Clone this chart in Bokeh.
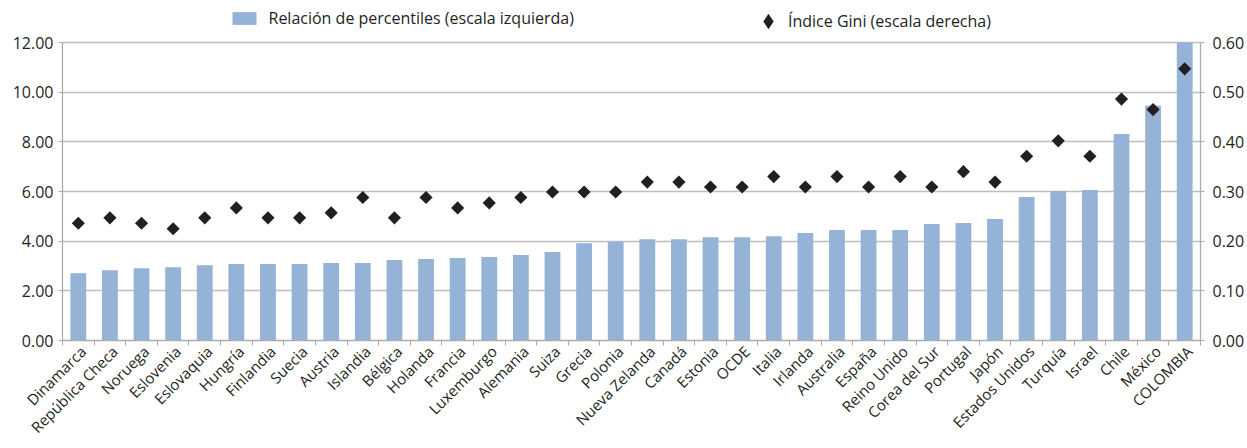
from math import pi
from bokeh.plotting import figure
from bokeh.models import (Range1d, LinearAxis, FixedTicker, NumeralTickFormatter,
                          Legend, LegendItem, ColumnDataSource)
from bokeh.embed import file_html
from bokeh.resources import INLINE

# ---------------- data ----------------
countries = ["Dinamarca", "República Checa", "Noruega", "Eslovenia", "Eslovaquia",
             "Hungría", "Finlandia", "Suecia", "Austria", "Islandia", "Bélgica",
             "Holanda", "Francia", "Luxemburgo", "Alemania", "Suiza", "Grecia",
             "Polonia", "Nueva Zelanda", "Canadá", "Estonia", "OCDE", "Italia",
             "Irlanda", "Australia", "España", "Reino Unido", "Corea del Sur",
             "Portugal", "Japón", "Estados Unidos", "Turquía", "Israel", "Chile",
             "México", "COLOMBIA"]

percentile_ratio = [2.71, 2.83, 2.91, 2.95, 3.03, 3.08, 3.08, 3.08, 3.12, 3.12, 3.24,
                    3.28, 3.32, 3.36, 3.44, 3.56, 3.92, 3.98, 4.08, 4.08, 4.16, 4.16,
                    4.20, 4.33, 4.45, 4.45, 4.45, 4.69, 4.73, 4.89, 5.78, 6.02, 6.06,
                    8.32, 9.45, 12.00]

gini_index = [0.236, 0.247, 0.236, 0.225, 0.247, 0.267, 0.247, 0.247, 0.257, 0.288, 0.247,
              0.288, 0.267, 0.277, 0.288, 0.299, 0.299, 0.299, 0.319, 0.319, 0.309, 0.309,
              0.330, 0.309, 0.330, 0.309, 0.330, 0.309, 0.340, 0.319, 0.371, 0.402, 0.371,
              0.486, 0.465, 0.547]

left_ticks = [0, 2, 4, 6, 8, 10, 12]
right_ticks = [0.0, 0.1, 0.2, 0.3, 0.4, 0.5, 0.6]

label_bars = "Relación de percentiles (escala izquierda)"
label_gini = "Índice Gini (escala derecha)"

# ---------------- style / layout ----------------
BAR = "#95B3D7"
DARK = "#231F20"
GRID = "#BEBEBE"
AXIS = "#ABABAB"
FONT = "Open Sans"
FS = "16px"

W, H = 1247, 448
TOP, BOTTOM, LEFT, RIGHT = 2, 108, 62, 44
PLOT_H = 298                      # pixel height of the 0..12 scale
FRAME_H = H - TOP - BOTTOM        # frame also holds the legend strip on top
stretch = FRAME_H / PLOT_H
LABEL_SHIFT = 0.15                # rotated labels sit a little right of the bar centre

n = len(countries)
idx = list(range(n))
src = ColumnDataSource(dict(x=idx, ratio=percentile_ratio, gini=gini_index))

p = figure(width=W, height=H, output_backend="svg", toolbar_location=None,
           x_range=Range1d(-0.5, n - 0.5),
           y_range=Range1d(left_ticks[0], left_ticks[-1] * stretch),
           min_border_left=LEFT, min_border_right=RIGHT,
           min_border_top=TOP, min_border_bottom=BOTTOM)
p.outline_line_color = None
p.extra_y_ranges = {"gini": Range1d(right_ticks[0], right_ticks[-1] * stretch)}

bars = p.vbar(x="x", top="ratio", width=0.5, source=src, fill_color=BAR, line_color=None)
# legend key for the Gini series (tiny, hidden beneath the real markers)
gini_key = p.scatter(x="x", y="gini", y_range_name="gini", source=src,
                     marker="diamond", size=1, fill_color=DARK, line_color=DARK,
                     line_width=1.5, line_join="miter")
p.scatter(x="x", y="gini", y_range_name="gini", source=src, marker="square",
          angle=pi / 4, size=9.3, fill_color=DARK, line_color=None)

# x axis
label_pos = [i + LABEL_SHIFT for i in idx]
xa = p.xaxis[0]
xa.ticker = FixedTicker(ticks=label_pos, minor_ticks=[i - 0.5 for i in range(n + 1)])
xa.major_label_overrides = {pos: c for pos, c in zip(label_pos, countries)}
xa.major_label_orientation = pi / 4
xa.major_tick_out = 0
xa.major_tick_in = 0
xa.minor_tick_out = 5
xa.minor_tick_in = 0
xa.minor_tick_line_color = AXIS
xa.axis_line_color = AXIS
xa.major_label_standoff = 3
xa.major_label_text_font_size = "15px"

# left axis
ya = p.yaxis[0]
ya.ticker = FixedTicker(ticks=left_ticks)
ya.formatter = NumeralTickFormatter(format="0.00")
ya.bounds = (left_ticks[0], left_ticks[-1])
ya.major_label_standoff = 5

# right axis
ra = LinearAxis(y_range_name="gini", ticker=FixedTicker(ticks=right_ticks),
                formatter=NumeralTickFormatter(format="0.00"),
                bounds=(right_ticks[0], right_ticks[-1]))
ra.major_label_standoff = 8
p.add_layout(ra, "right")

for ax in (ya, ra):
    ax.major_tick_out = 4
    ax.major_tick_in = 0
    ax.minor_tick_line_color = None
    ax.major_tick_line_color = AXIS
    ax.axis_line_color = AXIS
    ax.major_label_text_font_size = FS

for ax in (xa, ya, ra):
    ax.major_label_text_font = FONT
    ax.major_label_text_color = DARK
    ax.axis_line_width = 1.3

p.xgrid.visible = False
p.ygrid.ticker = FixedTicker(ticks=left_ticks)
p.ygrid.grid_line_color = GRID
p.ygrid.grid_line_width = 1.5

common = dict(padding=0, margin=0, spacing=0, border_line_color=None,
              background_fill_alpha=0, label_text_font=FONT,
              label_text_font_size=FS, label_text_color=DARK)

frame_bottom = H - BOTTOM
leg1 = Legend(items=[LegendItem(label=label_bars, renderers=[bars])],
              location=(166.5, frame_bottom - 13 - 16), glyph_width=30, glyph_height=16,
              label_height=16, label_standoff=10, **common)
leg2 = Legend(items=[LegendItem(label=label_gini, renderers=[gini_key])],
              location=(690, frame_bottom - 5 - 32), glyph_width=32, glyph_height=32,
              label_height=32, label_standoff=4, **common)
p.add_layout(leg1)
p.add_layout(leg2)

open("out.html", "w").write(file_html(p, INLINE, title="Relación de percentiles e Índice Gini"))
